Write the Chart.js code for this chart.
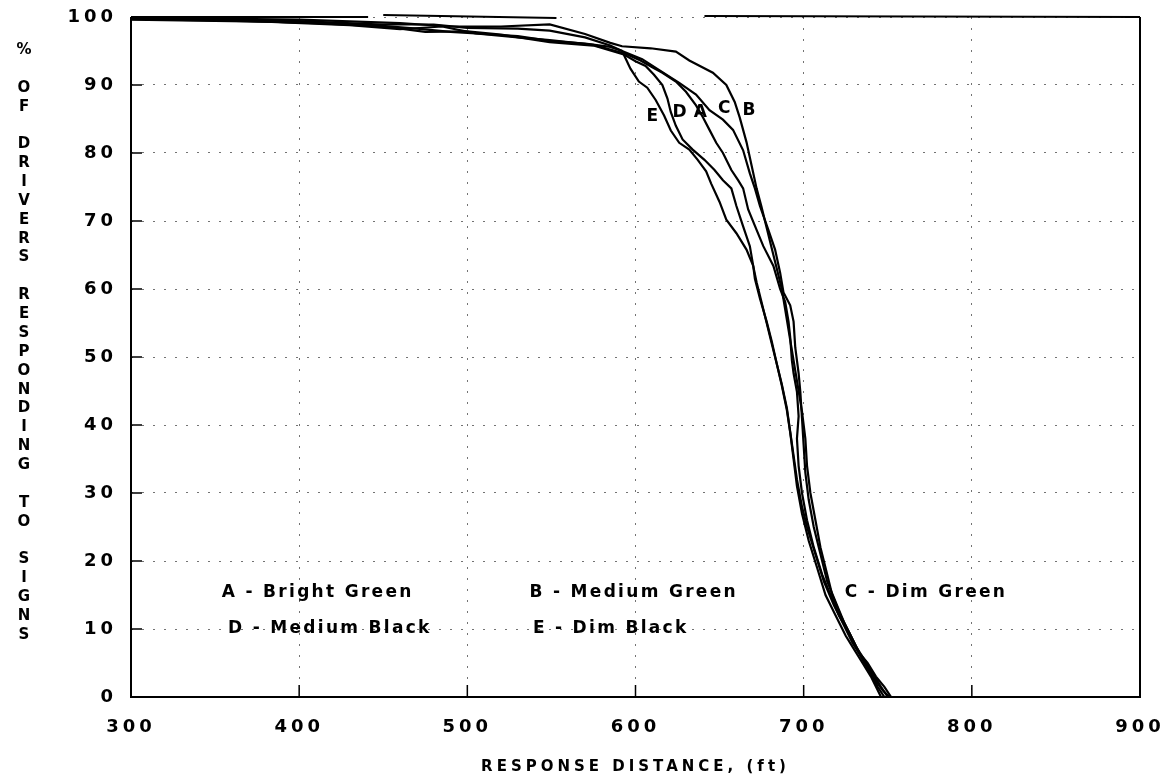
<!DOCTYPE html>
<html>
<head>
<meta charset="utf-8">
<script src="https://cdn.jsdelivr.net/npm/chart.js@4.4.0/dist/chart.umd.min.js"></script>
<style>
    html, body { margin: 0; padding: 0; background: #fff; }
    #wrap { width: 1165px; height: 780px; }
</style>
</head>
<body>
<div id="wrap"><canvas id="myChart" width="1165" height="780"></canvas></div>
<script>
// response distance (ft) vs % of drivers responding
const curveA = [[300,99.6],[380,99.3],[430,98.8],[460,98.2],[485,98.6],[505,97.6],[530,97],[549,96.6],[575,95.9],[594,94.6],[603,93.6],[610,92.6],[616,91.8],[624,90.5],[630,89],[636,87],[640,85.3],[644,83.4],[648,81.5],[652,80],[657,77.5],[661,76],[664,74.8],[667,71.7],[672,68.7],[676,66.3],[682,63.4],[686,60],[689,58.1],[691,55.2],[692,52.9],[693,49.5],[694,47.6],[696,44.9],[697,41.3],[696,38],[697,34],[699,30],[702,26],[706,22],[711,18],[716,15],[721,12],[727,9.5],[731,7.5],[735,5.5],[741,3],[747,1],[751,0]];
const curveB = [[300,99.9],[400,99.6],[460,99.1],[490,98.6],[520,98.6],[549,98.9],[570,97.5],[585,96.2],[592,95.7],[609,95.4],[624,94.9],[632,93.6],[646,91.8],[654,90],[659,87.5],[662,85.2],[666,81.6],[669,78.2],[672,74.8],[675,72],[678,69],[681,66],[684,63],[687,60],[689,57],[691,54],[693,51],[695,48],[697,45],[699,42],[701,38],[702,34],[704,30],[707,26],[710,22],[714,18],[717,15],[722,12],[727,9.5],[731,7.5],[736,5.5],[741,3.5],[746,1.5],[750,0]];
const curveC = [[300,99.8],[400,99.4],[450,98.9],[480,98.9],[500,98.4],[530,98.3],[549,98],[570,97],[585,95.8],[592,95],[604,93.8],[616,91.9],[626,90.3],[636,88.6],[644,86.3],[652,84.9],[658,83.4],[664,80.4],[668,77],[671,74.8],[674,72.2],[679,68.7],[683,65.8],[686,62.4],[688,59.5],[692,57.6],[694,55.2],[695,51.4],[697,47.6],[698,44.9],[699,41],[700,37],[701,33],[703,29],[706,25],[710,21],[714,17],[719,14],[724,11],[729,8.5],[733,6.5],[738,5],[743,3],[748,1.5],[752,0]];
const curveD = [[300,99.8],[360,99.5],[410,99.1],[450,98.6],[475,97.8],[500,97.9],[520,97.4],[549,96.3],[575,95.8],[593,94.5],[600,93.5],[606,92.8],[611,91.5],[616,90],[619,88],[621,86],[624,84],[628,82],[634,80.5],[641,79],[647,77.5],[652,76],[657,74.8],[660,72.2],[664,69.2],[668,66.3],[670,63.4],[672,61],[675,58],[678,55],[681,52],[684,49],[687,46],[690,42.5],[692,39],[694,35.5],[696,32],[699,28],[702,25],[707,21],[712,17],[718,13.5],[724,10.5],[729,8],[734,6],[739,4],[744,1.5],[748,0]];
const curveE = [[300,99.7],[350,99.5],[400,99.2],[440,98.9],[470,98.3],[490,97.8],[510,97.5],[530,97.2],[549,96.5],[570,96.1],[585,95.6],[592,95],[597,92.4],[602,90.5],[607,89.6],[612,87.8],[617,85.5],[621,83.3],[626,81.5],[632,80.5],[637,79],[642,77.3],[645,75.5],[650,72.8],[654,70.2],[660,68.2],[666,65.8],[670,63.4],[671,61.5],[674,58.6],[678,55.2],[681,52.3],[684,49],[687,45.8],[690,42.2],[692,38.9],[694,35],[696,31],[699,27],[703,23],[708,19],[713,15],[719,12],[725,9],[730,7],[735,5],[740,3],[743,1.5],[746,0]];

const xTicks = [300, 400, 500, 600, 700, 800, 900];
const yTicks = [0, 10, 20, 30, 40, 50, 60, 70, 80, 90, 100];
const innerXTicks = [400, 500, 600, 700, 800];

// curve letters and the key written inside the plot
const curveLetters = [['E', 606.6, 85.3], ['D', 622, 86], ['A', 634.7, 86], ['C', 649, 86.5], ['B', 663.6, 86.3]];
const keyLabels = [
    ['A - Bright Green', 354, 15.4],
    ['B - Medium Green', 537, 15.4],
    ['C - Dim Green', 724.5, 15.4],
    ['D - Medium Black', 357.7, 10],
    ['E - Dim Black', 539, 10]
];
const yTitle = '% OF DRIVERS RESPONDING TO SIGNS';
const xTitle = 'RESPONSE DISTANCE, (ft)';

const FONT = "'DejaVu Sans', sans-serif";

function toPoints(arr) {
    return arr.map(p => ({ x: p[0], y: p[1] }));
}

function makeSet(label, arr) {
    return {
        label: label,
        data: toPoints(arr),
        showLine: true,
        borderColor: '#000',
        borderWidth: 2.2,
        pointRadius: 0,
        tension: 0,
        fill: false
    };
}

const paperPlugin = {
    id: 'paper',
    beforeDraw(chart) {
        chart.ctx.letterSpacing = '4px';
    },
    afterDraw(chart) {
        const ctx = chart.ctx;
        const a = chart.chartArea;
        const xs = chart.scales.x;
        const ys = chart.scales.y;
        ctx.save();
        ctx.letterSpacing = '0px';
        ctx.strokeStyle = '#000';
        ctx.lineWidth = 2;

        // frame; the top edge has two breaks in the original print
        ctx.beginPath();
        ctx.moveTo(a.left, a.top);
        ctx.lineTo(a.left, a.bottom);
        ctx.lineTo(a.right, a.bottom);
        ctx.lineTo(a.right, a.top);
        ctx.moveTo(a.left, a.top);
        ctx.lineTo(xs.getPixelForValue(441), a.top);
        ctx.moveTo(xs.getPixelForValue(450), a.top - 2);
        ctx.lineTo(xs.getPixelForValue(553), a.top + 1);
        ctx.moveTo(xs.getPixelForValue(641), a.top - 1);
        ctx.lineTo(a.right, a.top);
        ctx.stroke();

        // ticks point inward
        ctx.beginPath();
        for (const v of yTicks.slice(1, -1)) {
            const py = ys.getPixelForValue(v);
            ctx.moveTo(a.left, py);
            ctx.lineTo(a.left + 11, py);
        }
        for (const v of innerXTicks) {
            const px = xs.getPixelForValue(v);
            ctx.moveTo(px, a.bottom);
            ctx.lineTo(px, a.bottom - 12);
        }
        ctx.lineWidth = 1.5;
        ctx.stroke();

        ctx.fillStyle = '#000';
        ctx.textBaseline = 'middle';
        ctx.textAlign = 'left';
        ctx.font = 'bold 17px ' + FONT;
        ctx.letterSpacing = '1px';
        for (const l of curveLetters) {
            ctx.fillText(l[0], xs.getPixelForValue(l[1]), ys.getPixelForValue(l[2]));
        }
        ctx.letterSpacing = '2.3px';
        for (const k of keyLabels) {
            ctx.fillText(k[0], xs.getPixelForValue(k[1]), ys.getPixelForValue(k[2]));
        }

        // y title, one letter under the other
        ctx.font = 'bold 15px ' + FONT;
        ctx.textAlign = 'center';
        ctx.letterSpacing = '0px';
        const top = 50, bottom = 635;
        const step = (bottom - top) / (yTitle.length - 1);
        for (let i = 0; i < yTitle.length; i++) {
            const ch = yTitle[i];
            if (ch === ' ') continue;
            ctx.fillText(ch, 24, top + i * step);
        }
        ctx.restore();
    }
};

const config = {
    type: 'scatter',
    data: {
        datasets: [
            makeSet('A', curveA),
            makeSet('B', curveB),
            makeSet('C', curveC),
            makeSet('D', curveD),
            makeSet('E', curveE)
        ]
    },
    options: {
        responsive: false,
        animation: false,
        devicePixelRatio: 1,
        layout: { padding: { top: 17, right: 25, left: 0, bottom: 0 } },
        plugins: {
            legend: { display: false },
            tooltip: { enabled: false }
        },
        scales: {
            x: {
                type: 'linear',
                min: 300,
                max: 900,
                afterFit: s => { s.height = 83; s.paddingLeft = 0; s.paddingRight = 0; },
                afterBuildTicks: s => { s.ticks = xTicks.map(v => ({ value: v })); },
                ticks: {
                    color: '#000',
                    padding: 20,
                    font: { family: FONT, weight: 'bold', size: 18 }
                },
                grid: { color: 'rgba(0,0,0,0.55)', lineWidth: 1, drawTicks: false },
                border: { display: false, dash: [2, 9] },
                title: {
                    display: true,
                    text: xTitle,
                    color: '#000',
                    padding: { top: 8 },
                    font: { family: FONT, weight: 'bold', size: 15 }
                }
            },
            y: {
                type: 'linear',
                min: 0,
                max: 100,
                afterFit: s => { s.width = 131; s.paddingTop = 0; s.paddingBottom = 0; },
                afterBuildTicks: s => { s.ticks = yTicks.map(v => ({ value: v })); },
                ticks: {
                    color: '#000',
                    padding: 14,
                    font: { family: FONT, weight: 'bold', size: 18 }
                },
                grid: { color: 'rgba(0,0,0,0.55)', lineWidth: 1, drawTicks: false },
                border: { display: false, dash: [2, 9] }
            }
        }
    },
    plugins: [paperPlugin]
};

const myChart = new Chart(document.getElementById('myChart'), config);
</script>
</body>
</html>
